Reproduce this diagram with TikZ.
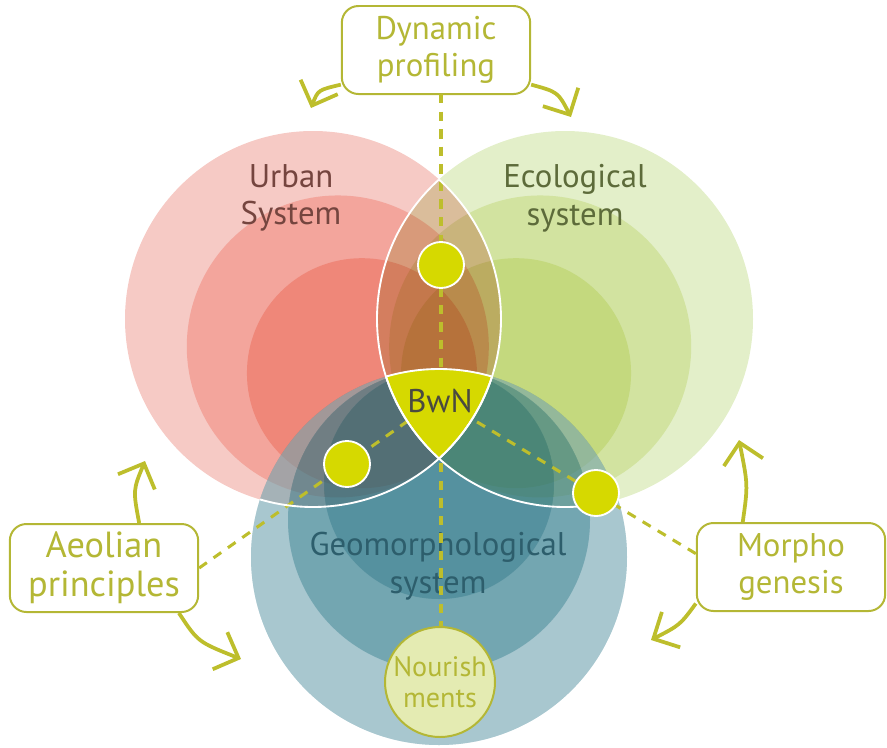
\documentclass[tikz,border=0pt]{standalone}
\usepackage{fontspec}
\setmainfont{PT Sans}
\usetikzlibrary{calc,arrows.meta}
\definecolor{urbA}{HTML}{F6CAC5}
\definecolor{urbB}{HTML}{F3A59C}
\definecolor{urbC}{HTML}{EF8779}
\definecolor{ecoA}{HTML}{E3EFC9}
\definecolor{ecoB}{HTML}{ECF3CC}
\definecolor{ecoC}{HTML}{EEF4C9}
\definecolor{geoA}{HTML}{A8C7CF}
\definecolor{geoB}{HTML}{74A6B2}
\definecolor{geoC}{HTML}{5692A0}
\definecolor{geoBm}{HTML}{B0D5DB}
\definecolor{geoCm}{HTML}{BDE0E5}
\definecolor{lineol}{HTML}{BDBE2C}
\definecolor{boxol}{HTML}{B4B735}
\definecolor{dotyel}{HTML}{D6D900}
\definecolor{nourfill}{HTML}{E4EBB2}
\definecolor{urbtext}{HTML}{75453F}
\definecolor{ecotext}{HTML}{5D6B3A}
\definecolor{geotext}{HTML}{2D5E6C}
\definecolor{bwntext}{HTML}{4A4A40}
\tikzset{
  systext/.style={align=center,font=\fontsize{28}{32}\selectfont},
  sysbox/.style={draw=boxol,fill=white,line width=1.7pt,rounded corners=0.5cm,
    minimum width=5.65cm,minimum height=2.64cm,align=center,text=boxol,
    font=\fontsize{28}{32}\selectfont},
  nourcircle/.style={circle,draw=boxol,fill=nourfill,line width=1.7pt,minimum size=3.3cm,
    inner sep=0pt,align=center,text=boxol,font=\fontsize{24}{27}\selectfont},
  dot/.style={circle,fill=dotyel,draw=white,line width=1.6pt,minimum size=1.38cm,inner sep=0pt},
  rim/.style={draw=white,line width=1.6pt},
  dashline/.style={draw=lineol,line width=2.6pt,dash pattern=on 8pt off 7pt},
  flow/.style={draw=lineol,line width=3.2pt,-{Straight Barb[length=17pt,width=34pt]}}
}
\begin{document}
\begin{tikzpicture}[x=0.03cm,y=-0.03cm]
\useasboundingbox (0,0) rectangle (887,747);
\coordinate (U) at (313,319);
\coordinate (E) at (565,319);
\coordinate (G) at (439,557);
\coordinate (low) at (439,458.5);
\coordinate (top) at (439,369);
\coordinate (mid) at (439,399);
\coordinate (G2) at ($(top)!151/188!(G)$);
\coordinate (G3) at ($(top)!115/188!(G)$);
% three systems
\foreach \r/\c in {188/urbA,151/urbB,115/urbC}
  \fill[\c] ($(low)!\r/188!(U)$) circle[radius=\r];
\begin{scope}[blend mode=multiply]
  \foreach \r/\c in {188/ecoA,151/ecoB,115/ecoC}
    \fill[\c] ($(low)!\r/188!(E)$) circle[radius=\r];
  \foreach \r/\c in {188/geoA,151/geoBm,115/geoCm}
    \fill[\c] ($(top)!\r/188!(G)$) circle[radius=\r];
\end{scope}
\begin{scope}[opacity=0.5]
  \fill[geoA,even odd rule] (G) circle[radius=188] (G2) circle[radius=151];
  \fill[geoB,even odd rule] (G2) circle[radius=151] (G3) circle[radius=115];
  \fill[geoC] (G3) circle[radius=115];
\end{scope}
\node[systext,text=urbtext] (urb) at (291,198) {Urban\\System};
\node[systext,text=ecotext] (eco) at (575,198) {Ecological\\system};
\node[systext,text=geotext] (geo) at (438,566) {Geomorphological\\system};
% boxes
\node[sysbox] (dyn) at (436,50) {Dynamic\\profiling};
\node[sysbox,font=\fontsize{31}{33}\selectfont] (aeol) at (104,568) {Aeolian\\principles};
\node[sysbox] (morph) at (791,567) {Morpho\\genesis};
\draw[dashline] (aeol.east) -- (mid);
\draw[dashline] (morph.172) -- (mid);
\draw[dashline] (441,94) -- (441,630);
\node[nourcircle] (nour) at (440,682) {Nourish\\ments};
% BwN
\begin{scope}
  \clip (U) circle[radius=188];
  \clip (E) circle[radius=188];
  \fill[dotyel] (G) circle[radius=188];
\end{scope}
\begin{scope}\clip (E) circle[radius=188]; \draw[rim] (U) circle[radius=188];\end{scope}
\begin{scope}\clip (G) circle[radius=188]; \draw[rim] (U) circle[radius=188];\end{scope}
\begin{scope}\clip (U) circle[radius=188]; \draw[rim] (E) circle[radius=188];\end{scope}
\begin{scope}\clip (G) circle[radius=188]; \draw[rim] (E) circle[radius=188];\end{scope}
\begin{scope}\clip (U) circle[radius=188]; \clip (E) circle[radius=188];
  \draw[rim] (G) circle[radius=188];\end{scope}
\node[systext,text=bwntext] (bwn) at (440,401) {BwN};
\node[dot] (dtop) at (441,265) {};
\node[dot] (dleft) at (347,464) {};
\node[dot] (dright) at (596,493) {};
% arrows
\coordinate (dynL) at (311,108);
\coordinate (dynR) at (571,117);
\coordinate (aeolU) at (145,461);
\coordinate (aeolD) at (241,659);
\coordinate (morphU) at (739,440);
\coordinate (morphD) at (651,640);
\draw[flow] (dyn.200) .. controls (318,90) .. (dynL);
\draw[flow] (dyn.340) .. controls (558,92) .. (dynR);
\draw[flow] (aeol.52) .. controls (133,490) .. (aeolU);
\draw[flow] (aeol.-31) .. controls (198,642) .. (aeolD);
\draw[flow] (morph.137) .. controls (748,485) .. (morphU);
\draw[flow] (morph.201) .. controls (680,625) .. (morphD);
\end{tikzpicture}
\end{document}
